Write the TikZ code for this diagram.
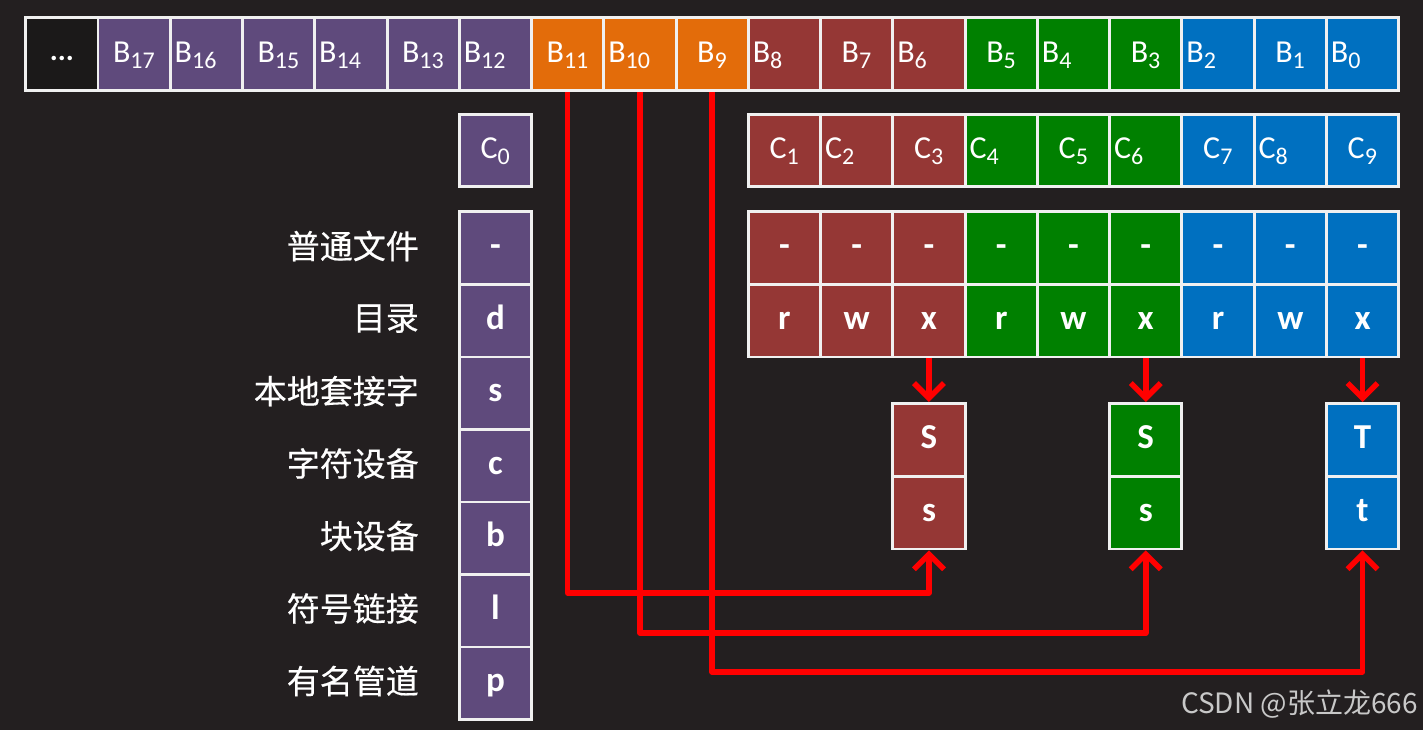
\documentclass[tikz,border=0pt]{standalone}
\usepackage{fontspec}
\setmainfont{Carlito}
\newfontfamily\cjk{Noto Sans CJK SC}
\newfontfamily\cjkl[FakeBold=0.4]{Noto Sans CJK SC}
\usetikzlibrary{arrows.meta}
\definecolor{bgc}{HTML}{231F20}
\definecolor{framec}{HTML}{F0F0F0}
\definecolor{dotc}{HTML}{1B1919}
\definecolor{pur}{HTML}{5F4A7C}
\definecolor{org}{HTML}{E36C0A}
\definecolor{dred}{HTML}{953735}
\definecolor{grn}{HTML}{008000}
\definecolor{blu}{HTML}{0070C0}
\definecolor{arrowred}{HTML}{FF0000}
\definecolor{wmark}{HTML}{C8C8C8}
\newcommand\sbs[1]{\raisebox{-6pt}{\fontsize{24}{24}\selectfont #1}}
\begin{document}
\begin{tikzpicture}[x=1pt,y=-1pt,
  cell/.style={draw=none, minimum width=69.3pt, minimum height=70pt, inner sep=0pt, anchor=north west,
     text=white, font=\bfseries\fontsize{35}{35}\selectfont, text height=24pt, text depth=7pt},
  ccell/.style={cell, minimum height=69pt},
  framebox/.style={fill=framec, draw=none, inner sep=0pt, anchor=north west},
  lbl/.style={text=white, font=\fontsize{32}{32}\selectfont, inner sep=0pt},
  zh/.style={text=white, font=\cjkl\fontsize{33}{33}\selectfont, inner sep=0pt, anchor=east},
  redarrow/.style={draw=arrowred, line width=5.5pt, line join=round, -{Straight Barb[length=15pt,width=30pt]}}
]
\fill[bgc] (0,0) rectangle (1423,730);
\useasboundingbox (0,0) rectangle (1423,730);

% ---------- frames ----------
\node[framebox, minimum width=1376pt, minimum height=76pt] (ftop) at (24,16) {};
\node[framebox, minimum width=75.3pt, minimum height=75pt] (fc0) at (457.6,113) {};
\node[framebox, minimum width=653.4pt, minimum height=75pt] (fc) at (746.6,113) {};
\node[framebox, minimum width=653.4pt, minimum height=148pt] (fperm) at (746.6,210) {};
\node[framebox, minimum width=75.3pt, minimum height=511pt] (ftype) at (457.6,210) {};
\foreach \k/\i in {1/12,2/15,3/18}
  \node[framebox, minimum width=75.3pt, minimum height=148pt] (sf\k) at ({24+72.26*\i},402) {};

% ---------- top row B ----------
\foreach \i/\c in {0/dotc,1/pur,2/pur,3/pur,4/pur,5/pur,6/pur,7/org,8/org,9/org,
                   10/dred,11/dred,12/dred,13/grn,14/grn,15/grn,16/blu,17/blu,18/blu}
  \node[cell, fill=\c] (b\i) at ({27+72.26*\i},19) {};
\node[text=white, font=\bfseries\fontsize{30}{30}\selectfont, inner sep=0pt, anchor=base] (tdots) at ([yshift=-6pt]b0.center) {...};
\foreach \i/\n/\an/\off in {1/17/base/34.65, 2/16/base west/3, 3/15/base/34.65, 4/14/base west/3,
     5/13/base/34.65, 6/12/base west/3, 7/11/base/34.65, 8/10/base west/3, 9/9/base/34.65,
     10/8/base west/3, 11/7/base/34.65, 12/6/base west/3, 13/5/base/34.65, 14/4/base west/3,
     15/3/base/34.65, 16/2/base west/3, 17/1/base/34.65, 18/0/base west/3}
  \node[lbl, anchor=\an] (tb\i) at ({27+72.26*\i+\off},63) {B\sbs{\n}};

% ---------- C row ----------
\node[ccell, fill=pur] (c0) at ({27+72.26*6},116) {};
\node[lbl, anchor=base] (tc0) at ({27+72.26*6+34.65},159) {C\sbs{0}};
\foreach \i/\c in {10/dred,11/dred,12/dred,13/grn,14/grn,15/grn,16/blu,17/blu,18/blu}
  \node[ccell, fill=\c] (c\i) at ({27+72.26*\i},116) {};
\foreach \i/\n/\an/\off in {10/1/base/34.65, 11/2/base west/3, 12/3/base/34.65, 13/4/base west/3,
     14/5/base/34.65, 15/6/base west/3, 16/7/base/34.65, 17/8/base west/3, 18/9/base/34.65}
  \node[lbl, anchor=\an] (tc\i) at ({27+72.26*\i+\off},159) {C\sbs{\n}};

% ---------- permission grid ----------
\foreach \i/\c/\l in {10/dred/r,11/dred/w,12/dred/x,13/grn/r,14/grn/w,15/grn/x,16/blu/r,17/blu/w,18/blu/x}{
  \node[cell, fill=\c] (p1\i) at ({27+72.26*\i},213) {-};
  \node[cell, fill=\c] (p2\i) at ({27+72.26*\i},285.5) {\l};
}

% ---------- type column ----------
\foreach \j/\l/\z in {0/-/普通文件,1/d/目录,2/s/本地套接字,3/c/字符设备,4/b/块设备,5/l/符号链接,6/p/有名管道}{
  \node[cell, fill=pur] (ty\j) at ({27+72.26*6},{213+72.5*\j}) {\l};
  \node[zh] (zh\j) at (419,{246+72.5*\j}) {\z};
}

% ---------- special bits ----------
\foreach \k/\i/\c/\u/\d in {1/12/dred/S/s,2/15/grn/S/s,3/18/blu/T/t}{
  \node[cell, fill=\c] (su\k) at ({27+72.26*\i},405) {\u};
  \node[cell, fill=\c] (sd\k) at ({27+72.26*\i},477.5) {\d};
}

% ---------- arrows ----------
\draw[redarrow] (fperm.south -| sf1.north) -- (sf1.north);
\draw[redarrow] (fperm.south -| sf2.north) -- (sf2.north);
\draw[redarrow] (fperm.south -| sf3.north) -- (sf3.north);
\coordinate (l1) at (0,593);
\coordinate (l2) at (0,633);
\coordinate (l3) at (0,672);
\draw[redarrow] (ftop.south -| b7.south) -- (b7.south |- l1) -| (sf1.south);
\draw[redarrow] (ftop.south -| b8.south) -- (b8.south |- l2) -| (sf2.south);
\draw[redarrow] (ftop.south -| b9.south) -- (b9.south |- l3) -| (sf3.south);

% ---------- watermark ----------
\node[text=wmark, font=\cjk\fontsize{28}{28}\selectfont, inner sep=0pt, anchor=base east] (wm) at (1418,713) {CSDN @张立龙666};
\end{tikzpicture}
\end{document}
